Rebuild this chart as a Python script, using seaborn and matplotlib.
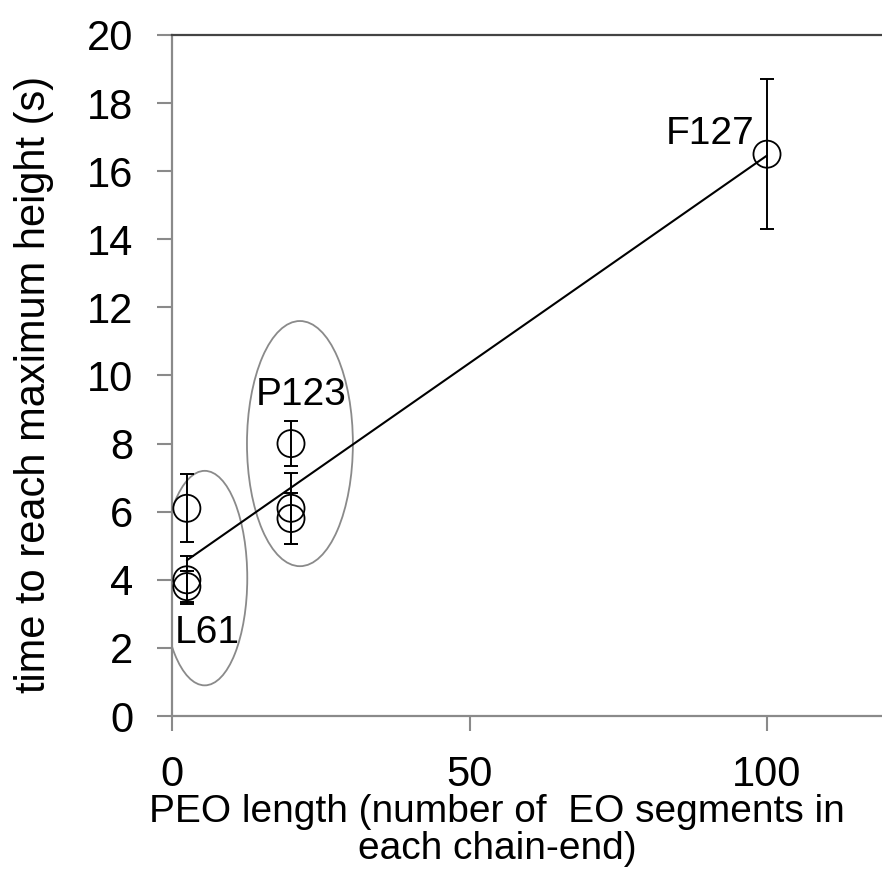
import numpy as np
import pandas as pd
import matplotlib
matplotlib.use("Agg")
import matplotlib.pyplot as plt
from matplotlib.patches import Ellipse
import seaborn as sns

# ---- data ----
peo_length = [2.5, 2.5, 2.5, 20, 20, 20, 100]
time_max = [6.1, 4.0, 3.8, 8.0, 6.1, 5.8, 16.5]
time_err = [1.0, 0.7, 0.45, 0.65, 1.05, 0.75, 2.2]
group_names = ["L61", "P123", "F127"]
group_label_x = [6.0, 21.7, 90.4]
group_label_y = [2.44, 9.43, 17.1]
x_ticks = [0, 50, 100]
y_ticks = list(range(0, 21, 2))

df = pd.DataFrame({"x": peo_length, "y": time_max, "err": time_err})

sns.set_theme(style="white")
plt.rcParams["font.family"] = ["Liberation Sans", "DejaVu Sans"]

fig = plt.figure(figsize=(8.82, 8.75), dpi=100)
ax = fig.add_axes([172 / 882, 1 - 716 / 875, 714 / 882, 681 / 875])

# ellipses around groups
ell_kw = dict(fill=False, edgecolor="#8a8a8a", linewidth=1.3, zorder=1)
ax.add_patch(Ellipse((5.5, 4.05), 14.3, 6.3, **ell_kw))
ax.add_patch(Ellipse((21.5, 8.0), 17.8, 7.2, **ell_kw))

# error bars
ax.errorbar(df["x"], df["y"], yerr=df["err"], fmt="none", ecolor="black",
            elinewidth=1.4, capsize=5, capthick=1.4, zorder=2)

# linear trend line
sns.regplot(data=df, x="x", y="y", scatter=False, ci=None, truncate=True,
            color="black", line_kws={"linewidth": 1.5, "zorder": 3}, ax=ax)

# open circle markers
sns.scatterplot(data=df, x="x", y="y", marker="o", s=380, facecolors="none",
                edgecolor="black", linewidth=1.3, zorder=4, ax=ax)

for name, lx, ly in zip(group_names, group_label_x, group_label_y):
    ax.text(lx, ly, name, fontsize=28, ha="center", va="center", color="black")

ax.set_xlim(0, 120)
ax.set_ylim(0, 20)
ax.set_xticks(x_ticks)
ax.set_yticks(y_ticks)
ax.tick_params(axis="both", which="major", labelsize=30, length=11, width=1.5,
               color="#8a8a8a", pad=17, labelcolor="black", direction="out")
ax.tick_params(axis="x", bottom=True)
ax.tick_params(axis="y", left=True)

for side in ["left", "bottom"]:
    ax.spines[side].set_color("#8a8a8a")
    ax.spines[side].set_linewidth(1.6)
ax.spines["top"].set_color("#444444")
ax.spines["top"].set_linewidth(1.6)
ax.spines["right"].set_visible(False)

ax.set_xlabel("PEO length (number of  EO segments in\neach chain-end)",
              fontsize=28, linespacing=1.05, color="black")
ax.xaxis.set_label_coords(0.455, -0.114)
ax.xaxis.label.set_va("top")
ax.set_ylabel("time to reach maximum height (s)", fontsize=30, color="black")
ax.yaxis.set_label_coords(-0.165, 0.4875)

fig.savefig("out.png", dpi=100)
